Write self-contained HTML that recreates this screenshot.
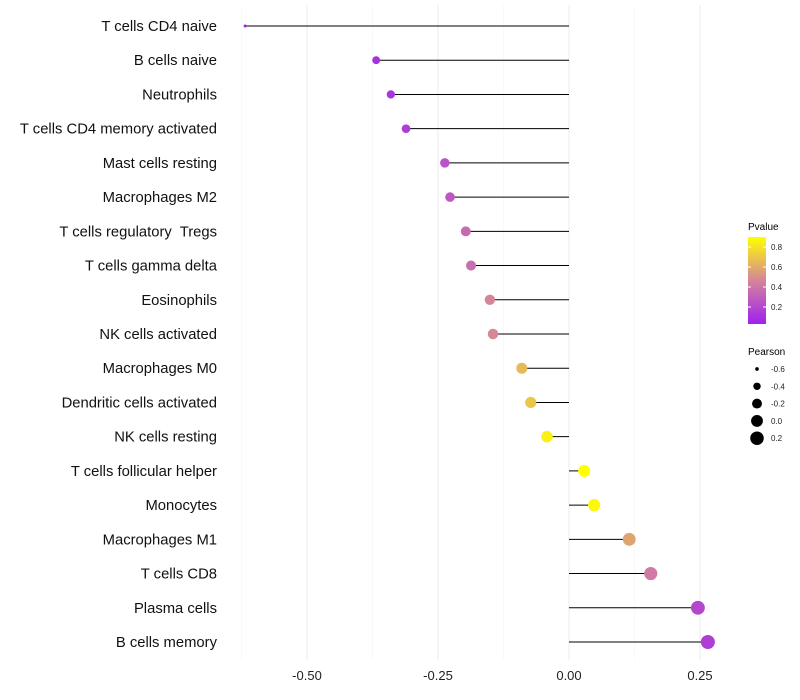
<!DOCTYPE html>
<html><head><meta charset="utf-8"><style>
body{margin:0;background:#fff;}
svg{display:block;font-family:"Liberation Sans",sans-serif;}
text{white-space:pre;}
</style></head><body>
<svg id="chart" width="800" height="700">
<defs><linearGradient id="pg" x1="0" y1="1" x2="0" y2="0">
<stop offset="0" stop-color="#a020f0"/><stop offset="0.5" stop-color="#d4859a"/><stop offset="1" stop-color="#ffff00"/>
</linearGradient></defs>
<g id="grid"></g><g id="marks"></g><g id="labels"></g>
<g>
<text x="748" y="230" font-size="10">Pvalue</text>
<rect x="748" y="237" width="18" height="87" fill="url(#pg)"/>
<g id="pticks"></g>
</g>
<g>
<text x="748" y="355" font-size="10">Pearson</text>
<g id="sizeleg"></g>
</g>
</svg>
<script>
const categories=["T cells CD4 naive","B cells naive","Neutrophils","T cells CD4 memory activated","Mast cells resting","Macrophages M2","T cells regulatory  Tregs","T cells gamma delta","Eosinophils","NK cells activated","Macrophages M0","Dendritic cells activated","NK cells resting","T cells follicular helper","Monocytes","Macrophages M1","T cells CD8","Plasma cells","B cells memory"];
const pearson=[-0.618,-0.368,-0.340,-0.311,-0.237,-0.227,-0.197,-0.187,-0.151,-0.145,-0.090,-0.073,-0.042,0.029,0.048,0.115,0.156,0.246,0.265];
const pvalue=[0.03,0.10,0.12,0.15,0.25,0.27,0.35,0.37,0.47,0.48,0.65,0.70,0.85,0.90,0.87,0.58,0.42,0.20,0.16];
const xTicks=[-0.5,-0.25,0,0.25];
const xTickLabels=["-0.50","-0.25","0.00","0.25"];
const pTicks=[0.2,0.4,0.6,0.8];
const sizeTicks=[-0.6,-0.4,-0.2,0.0,0.2];
const sizeTickLabels=["-0.6","-0.4","-0.2","0.0","0.2"];

const NS="http://www.w3.org/2000/svg";
function mk(t,a,p){const e=document.createElementNS(NS,t);for(const k in a)e.setAttribute(k,a[k]);p.appendChild(e);return e;}
const x=v=>569+v*524;
const y=i=>26+i*(642-26)/(categories.length-1);
const r=v=>Math.sqrt(Math.max(1.5,2.25+(v+0.62)*53));
function col(p){const t=Math.max(0,Math.min(1,(p-0.03)/(0.9-0.03)));
 const a=[160,32,240],m=[212,133,154],b=[255,255,0];let c;
 if(t<0.5){const s=t/0.5;c=a.map((v,k)=>Math.round(v+(m[k]-v)*s));}else{const s=(t-0.5)/0.5;c=m.map((v,k)=>Math.round(v+(b[k]-v)*s));}
 return `rgb(${c})`;}
const grid=document.getElementById('grid'),marks=document.getElementById('marks'),labels=document.getElementById('labels');
[-0.625,-0.375,-0.125,0.125].forEach(v=>{const l=mk('line',{x1:x(v),x2:x(v),y1:5,y2:660,stroke:'#f5f5f5','stroke-width':0.6},grid);

});
xTicks.forEach((v,i)=>{const l=mk('line',{x1:x(v),x2:x(v),y1:5,y2:660,stroke:'#ebebeb','stroke-width':1},grid);


const t=mk('text',{x:x(v),y:680,'font-size':13,'text-anchor':'middle',fill:'#222'},labels);t.textContent=xTickLabels[i];

});
categories.forEach((c,i)=>{
 const t=mk('text',{x:217,y:y(i)+5,'font-size':14.8,'text-anchor':'end',fill:'#111'},labels);t.textContent=c;
 
 
 const l=mk('line',{x1:x(0),x2:x(pearson[i]),y1:y(i),y2:y(i),stroke:'#000','stroke-width':1},marks);
 
 
 const d=mk('circle',{cx:x(pearson[i]),cy:y(i),r:r(pearson[i]),fill:col(pvalue[i])},marks);
 
 
});
const pt=document.getElementById('pticks');
pTicks.forEach(v=>{const yy=324-(v-0.03)/(0.9-0.03)*87;
 const t=mk('text',{x:771,y:yy+3,'font-size':8,fill:'#222'},pt);t.textContent=v.toFixed(1);
 
 
 mk('line',{x1:748,x2:751,y1:yy,y2:yy,stroke:'#fff'},pt);mk('line',{x1:763,x2:766,y1:yy,y2:yy,stroke:'#fff'},pt);});
const sl=document.getElementById('sizeleg');
sizeTicks.forEach((v,i)=>{const yy=369+i*17.3;
 const c=mk('circle',{cx:757,cy:yy,r:r(v),fill:'#000'},sl);
 
 
 const t=mk('text',{x:771,y:yy+3,'font-size':8,fill:'#222'},sl);t.textContent=sizeTickLabels[i];
 
 });
</script>
</body></html>
